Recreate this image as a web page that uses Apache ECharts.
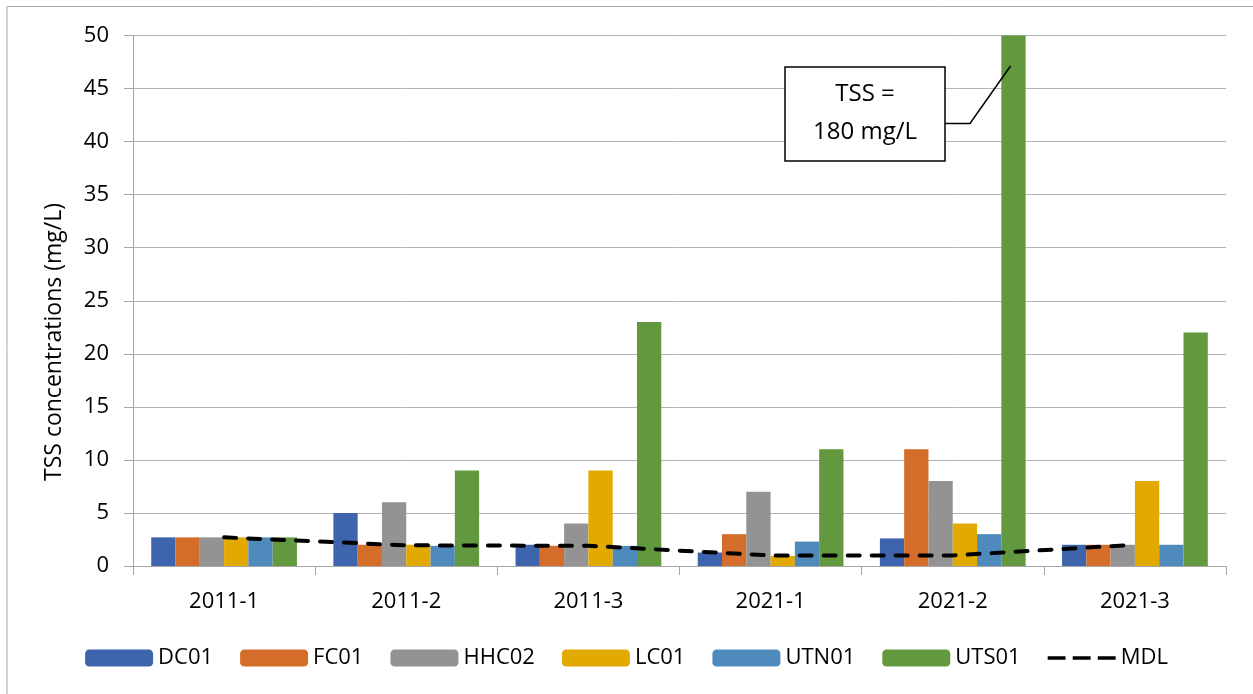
<!DOCTYPE html>
<html>
<head>
<meta charset="utf-8">
<script src="https://cdn.jsdelivr.net/npm/echarts@6/dist/echarts.min.js"></script>
<style>
  html, body { margin: 0; padding: 0; background: #fff; }
  #chart { width: 1253px; height: 694px; }
</style>
</head>
<body>
<div id="chart"></div>
<script>
// data
var categories = ['2011-1', '2011-2', '2011-3', '2021-1', '2021-2', '2021-3'];
var dc01  = [2.7, 5, 2, 1.27, 2.6, 2];
var fc01  = [2.7, 2, 1.9, 3, 11, 2];
var hhc02 = [2.7, 6, 4, 7, 8, 2];
var lc01  = [2.7, 2, 9, 0.95, 4, 8];
var utn01 = [2.7, 1.9, 1.9, 2.3, 3, 2];
var uts01 = [2.7, 9, 23, 11, 180, 22];
var mdl   = [2.7, 1.95, 1.9, 1.0, 1.0, 2.0];
var yTicks = [0, 5, 10, 15, 20, 25, 30, 35, 40, 45, 50];

var font = 'Open Sans';
var chart = echarts.init(document.getElementById('chart'));

function barSeries(name, data, color) {
    return {
        name: name,
        type: 'bar',
        data: data,
        barGap: '0%',
        barCategoryGap: '20%',
        clip: true,
        itemStyle: { color: color }
    };
}

var option = {
    animation: false,
    backgroundColor: '#fff',
    textStyle: { fontFamily: font },
    grid: {
        left: 133,
        right: 27,
        top: 35.5,
        bottom: 128
    },
    legend: {
        bottom: 20,
        left: 'center',
        itemWidth: 68,
        itemHeight: 17,
        itemGap: 27,
        textStyle: { fontSize: 22, color: '#000', fontFamily: font },
        data: ['DC01', 'FC01', 'HHC02', 'LC01', 'UTN01', 'UTS01',
               { name: 'MDL', icon: 'path://M0,0 L20,0 L20,4 L0,4 Z M28,0 L48,0 L48,4 L28,4 Z M56,0 L76,0 L76,4 L56,4 Z', itemStyle: { color: '#000' } }]
    },
    xAxis: {
        type: 'category',
        data: categories,
        boundaryGap: true,
        axisLine: { lineStyle: { color: '#a6a6a6', width: 1 } },
        axisTick: { show: true, length: 9, lineStyle: { color: '#a6a6a6' } },
        axisLabel: { fontSize: 22, color: '#000', margin: 25, fontFamily: font }
    },
    yAxis: {
        type: 'value',
        min: yTicks[0],
        max: yTicks[yTicks.length - 1],
        interval: 5,
        axisLine: { show: true, lineStyle: { color: '#a6a6a6', width: 1 } },
        axisTick: { show: true, length: 9, lineStyle: { color: '#a6a6a6' } },
        axisLabel: { fontSize: 22, color: '#000', margin: 24, fontFamily: font },
        splitLine: { lineStyle: { color: '#b3b3b3', width: 1 } }
    },
    series: [
        barSeries('DC01', dc01, '#3d64ad'),
        barSeries('FC01', fc01, '#d46d2a'),
        barSeries('HHC02', hhc02, '#939393'),
        barSeries('LC01', lc01, '#e2a900'),
        barSeries('UTN01', utn01, '#4f8abd'),
        barSeries('UTS01', uts01, '#62993e'),
        {
            name: 'MDL',
            type: 'line',
            data: mdl,
            symbol: 'none',
            z: 5,
            itemStyle: { color: '#000' },
            lineStyle: { color: '#000', width: 4, type: [12, 12], cap: 'round' }
        }
    ],
    graphic: [
        {
            type: 'polyline',
            shape: { points: [[7, 694], [7, 6.5], [1253, 6.5]] },
            style: { stroke: '#a6a6a6', lineWidth: 1, fill: null },
            z: 10
        },
        {
            // y axis title, sits a bit below the plot's middle like the original
            type: 'text',
            x: 54, y: 342,
            rotation: Math.PI / 2,
            style: { text: 'TSS concentrations (mg/L)', fontSize: 23, fontFamily: font, fill: '#000', align: 'center', verticalAlign: 'middle' },
            z: 11
        },
        {
            type: 'rect',
            shape: { x: 785, y: 67, width: 160, height: 94 },
            style: { fill: '#fff', stroke: '#000', lineWidth: 1.5 },
            z: 10
        },
        {
            type: 'text',
            x: 865, y: 94,
            style: { text: 'TSS =', fontSize: 24, fontFamily: font, fill: '#000', align: 'center', verticalAlign: 'middle' },
            z: 11
        },
        {
            type: 'text',
            x: 865, y: 132,
            style: { text: '180 mg/L', fontSize: 24, fontFamily: font, fill: '#000', align: 'center', verticalAlign: 'middle' },
            z: 11
        },
        {
            type: 'polyline',
            shape: { points: [[945, 123.5], [970, 123.5], [1010.5, 66]] },
            style: { stroke: '#000', lineWidth: 1.5, fill: null },
            z: 10
        }
    ]
};

chart.setOption(option);
</script>
</body>
</html>
